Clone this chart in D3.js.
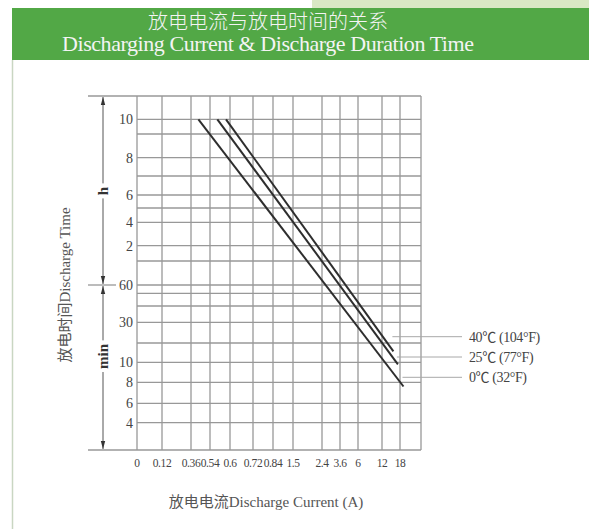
<!DOCTYPE html>
<html>
<head>
<meta charset="utf-8">
<script src="https://cdn.jsdelivr.net/npm/d3@7"></script>
<style>
  body { margin: 0; background: #fff; }
  text { font-family: "Liberation Serif", "Noto Sans CJK SC", serif; }
</style>
</head>
<body>
<svg id="chart" width="589" height="529"></svg>
<script>
// discharge current (A) columns, plus the unlabelled right border
const currentTicks = [0, 0.12, 0.36, 0.54, 0.6, 0.72, 0.84, 1.5, 2.4, 3.6, 6, 12, 18];
const currentEdge = 24;

// discharge time (minutes), every grid row from top border to bottom border
const timeGrid = [660, 600, 540, 480, 420, 360, 300, 240, 120, 90, 60, 50, 40, 30, 20, 10, 8, 6, 4, 0];
const hourTicks = [10, 8, 6, 4, 2];
const minuteTicks = [60, 30, 10, 8, 6, 4];

// curves: start at 10 h, end at high current
const seriesNames = ['40℃ (104°F)', '25℃ (77°F)', '0℃ (32°F)'];
const startCurrent = [0.588, 0.562, 0.43];
const startTime = [600, 600, 600];
const endCurrent = [15.8, 17.3, 19];
const endTime = [15.7, 9.8, 7.6];

// the grid is drawn non-uniformly, so both scales are piecewise
const xStops = [137, 162, 191, 210, 230, 253, 273, 293, 322, 340, 358, 382, 400, 421];
const yStops = [96, 119.3, 134, 157.7, 176, 195, 208, 222.3, 245.7, 261, 285, 293.3, 306,
  322.3, 343, 362.3, 382.3, 403.3, 422.7, 450];

const xScale = d3.scaleLinear().domain([...currentTicks, currentEdge]).range(xStops);
const yScale = d3.scaleLinear().domain(timeGrid).range(yStops);

const svg = d3.select('#chart');
const gridColor = '#989898';

// header
svg.append('rect').attr('x', 312).attr('y', 0).attr('width', 277).attr('height', 8).attr('fill', '#d9e8c4');
svg.append('rect').attr('x', 12).attr('y', 8).attr('width', 577).attr('height', 52).attr('fill', '#52a846');
svg.append('line').attr('x1', 12.5).attr('x2', 12.5).attr('y1', 60).attr('y2', 529)
  .attr('stroke', '#c9d6c2').attr('stroke-width', 1.5);

svg.append('text')
  .attr('x', 268).attr('y', 29)
  .attr('text-anchor', 'middle')
  .attr('fill', '#f4f4f4')
  .style('font-size', '20px')
  .style('font-weight', 300)
  .text('放电电流与放电时间的关系');

svg.append('text')
  .attr('x', 268).attr('y', 51)
  .attr('text-anchor', 'middle')
  .attr('fill', '#f4f4f4')
  .style('font-size', '22px')
  .attr('textLength', 412)
  .text('Discharging Current & Discharge Duration Time');

// grid
const grid = svg.append('g').attr('stroke', gridColor).attr('stroke-width', 1.3);

grid.selectAll('.vline')
  .data([...currentTicks, currentEdge])
  .enter()
  .append('line')
  .attr('x1', (d) => xScale(d))
  .attr('x2', (d) => xScale(d))
  .attr('y1', yScale(timeGrid[0]))
  .attr('y2', yScale(0));

grid.selectAll('.hline')
  .data(timeGrid)
  .enter()
  .append('line')
  .attr('x1', (d, i) => (i === 0 || i === timeGrid.length - 1 ? 88 : xScale(0)))
  .attr('x2', xScale(currentEdge))
  .attr('y1', (d) => yScale(d))
  .attr('y2', (d) => yScale(d));

// short cross line at the hour/minute split
grid.append('line')
  .attr('x1', 88).attr('x2', 116)
  .attr('y1', yScale(60)).attr('y2', yScale(60));

// dimension lines with arrows
const defs = svg.append('defs');
defs.append('marker')
  .attr('id', 'arrow')
  .attr('viewBox', '0 0 8 6')
  .attr('refX', 8).attr('refY', 3)
  .attr('markerWidth', 8).attr('markerHeight', 6)
  .attr('markerUnits', 'userSpaceOnUse')
  .attr('orient', 'auto-start-reverse')
  .append('path')
  .attr('d', 'M0,0.8L8,3L0,5.2Z')
  .attr('fill', '#333');

const dimX = 103;
[[660, 60], [60, 0]].forEach(([a, b]) => {
  svg.append('line')
    .attr('x1', dimX).attr('x2', dimX)
    .attr('y1', yScale(a) + 1).attr('y2', yScale(b) - 1)
    .attr('stroke', '#555').attr('stroke-width', 1)
    .attr('marker-start', 'url(#arrow)')
    .attr('marker-end', 'url(#arrow)');
});

const unitLabels = [['h', 360 + 12], ['min', 13]];
unitLabels.forEach(([label, t]) => {
  const g = svg.append('g').attr('transform', `translate(${dimX},${yScale(t)}) rotate(-90)`);
  const txt = g.append('text')
    .attr('text-anchor', 'middle')
    .attr('dy', '0.35em')
    .attr('fill', '#333')
    .style('font-size', '15px')
    .style('font-weight', 'bold')
    .text(label);
  const box = txt.node().getBBox();
  g.insert('rect', 'text')
    .attr('x', box.x - 3).attr('y', box.y + 2)
    .attr('width', box.width + 6).attr('height', box.height - 4)
    .attr('fill', '#fff');
});

// y tick labels
const yLabels = svg.append('g')
  .attr('fill', '#444')
  .attr('text-anchor', 'end')
  .style('font-size', '14px');

yLabels.selectAll('.hl')
  .data(hourTicks)
  .enter()
  .append('text')
  .attr('x', 133)
  .attr('y', (d) => yScale(d * 60))
  .attr('dy', '0.35em')
  .text((d) => d);

yLabels.selectAll('.ml')
  .data(minuteTicks)
  .enter()
  .append('text')
  .attr('x', 133)
  .attr('y', (d) => yScale(d))
  .attr('dy', '0.35em')
  .text((d) => d);

// x tick labels
svg.append('g')
  .attr('fill', '#444')
  .attr('text-anchor', 'middle')
  .style('font-size', '11.5px')
  .style('letter-spacing', '-0.4px')
  .selectAll('text')
  .data(currentTicks)
  .enter()
  .append('text')
  .attr('x', (d) => xScale(d))
  .attr('y', 467)
  .text((d) => d);

// axis titles
svg.append('text')
  .attr('x', 266).attr('y', 507)
  .attr('text-anchor', 'middle')
  .attr('fill', '#555')
  .style('font-size', '15px')
  .text('放电电流Discharge Current (A)');

svg.append('text')
  .attr('transform', `translate(70,${yScale(60)}) rotate(-90)`)
  .attr('text-anchor', 'middle')
  .attr('fill', '#555')
  .style('font-size', '15px')
  .text('放电时间Discharge Time');

// curves
const series = seriesNames.map((name, i) => ({
  name,
  points: [
    { a: startCurrent[i], t: startTime[i] },
    { a: endCurrent[i], t: endTime[i] },
  ],
}));

const line = d3.line()
  .x((d) => xScale(d.a))
  .y((d) => yScale(d.t));

svg.append('g')
  .selectAll('path')
  .data(series)
  .enter()
  .append('path')
  .attr('d', (d) => line(d.points))
  .attr('fill', 'none')
  .attr('stroke', '#2e2e2e')
  .attr('stroke-width', 2);

// legend with leader lines
const legendY = (i) => 336.7 + i * 20.3;
const legend = svg.append('g');

legend.selectAll('line')
  .data(series)
  .enter()
  .append('line')
  .attr('x1', (d, i) => xScale(endCurrent[i]) - 1)
  .attr('x2', 462)
  .attr('y1', (d, i) => legendY(i))
  .attr('y2', (d, i) => legendY(i))
  .attr('stroke', '#a8a8a8')
  .attr('stroke-width', 1);

legend.selectAll('text')
  .data(series)
  .enter()
  .append('text')
  .attr('x', 469)
  .attr('y', (d, i) => legendY(i))
  .attr('dy', '0.35em')
  .attr('fill', '#444')
  .style('font-size', '14px')
  .style('letter-spacing', '-0.4px')
  .text((d) => d.name);
</script>
</body>
</html>
